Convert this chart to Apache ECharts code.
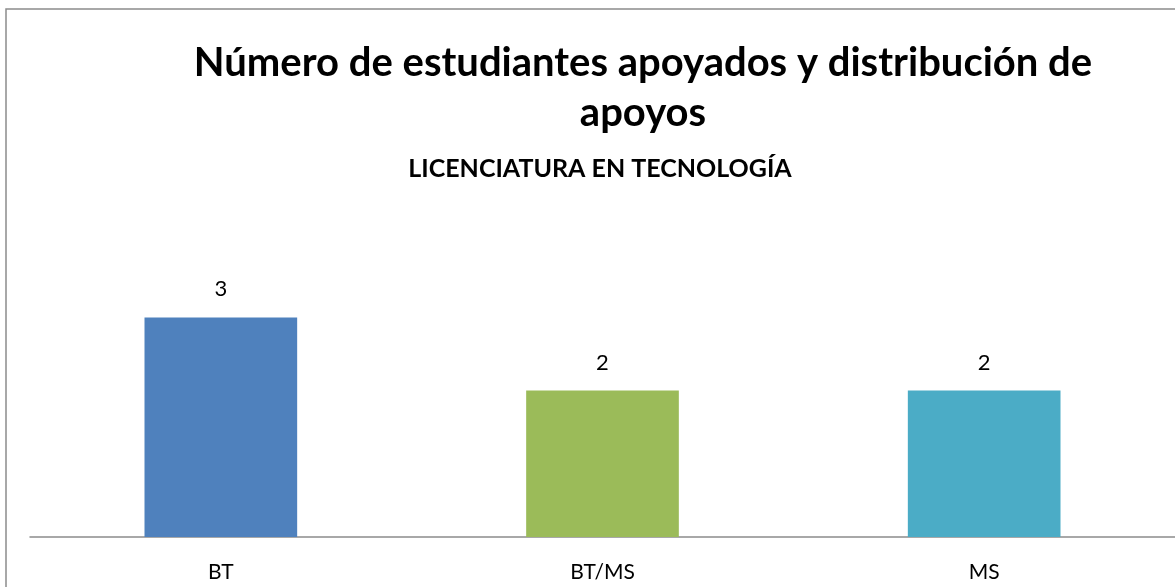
<!DOCTYPE html>
<html>
<head>
<meta charset="utf-8">
<script src="https://cdn.jsdelivr.net/npm/echarts@6/dist/echarts.min.js"></script>
<style>
  html, body { margin: 0; padding: 0; background: #fff; }
  #chart { width: 1175px; height: 587px; }
</style>
</head>
<body>
<div id="chart"></div>
<script>
  // data
  var categories = ['BT', 'BT/MS', 'MS'];
  var values = [3, 2, 2];
  var barColors = ['#4f81bd', '#9bbb59', '#4bacc6'];

  var titleText = 'Número de estudiantes apoyados y distribución de\napoyos';
  var subtitleText = 'LICENCIATURA EN TECNOLOGÍA';

  var myChart = echarts.init(document.getElementById('chart'));

  var option = {
    backgroundColor: '#fff',
    animation: false,
    graphic: [
      {
        type: 'rect',
        shape: { x: 6, y: 9, width: 1200, height: 620 },
        style: { fill: 'none', stroke: '#8c8c8c', lineWidth: 1.5 }
      }
    ],
    title: [
      {
        text: titleText,
        left: 638,
        top: 33,
        textAlign: 'center',
        textStyle: {
          fontFamily: 'Lato',
          fontWeight: 'bold',
          fontSize: 40,
          color: '#000',
          lineHeight: 50,
          align: 'center'
        }
      },
      {
        text: subtitleText,
        left: 595,
        top: 151,
        textAlign: 'center',
        textStyle: {
          fontFamily: 'Lato',
          fontWeight: 'bold',
          fontSize: 25,
          color: '#000'
        }
      }
    ],
    grid: {
      left: 30,
      right: -2,
      top: 171,
      bottom: 50,
      containLabel: false
    },
    xAxis: {
      type: 'category',
      data: categories,
      axisLine: { lineStyle: { color: '#8c8c8c', width: 1.5 } },
      axisTick: { show: false },
      axisLabel: {
        fontFamily: 'Lato',
        fontSize: 21,
        color: '#000',
        margin: 25
      }
    },
    yAxis: {
      type: 'value',
      min: 0,
      max: 5,
      show: false,
      splitLine: { show: false }
    },
    series: [
      {
        type: 'bar',
        barWidth: '40%',
        data: values.map(function (v, i) {
          return { value: v, itemStyle: { color: barColors[i] } };
        }),
        label: {
          show: true,
          position: 'top',
          distance: 17,
          fontFamily: 'Lato',
          fontSize: 22,
          color: '#000'
        }
      }
    ]
  };

  myChart.setOption(option);
</script>
</body>
</html>
